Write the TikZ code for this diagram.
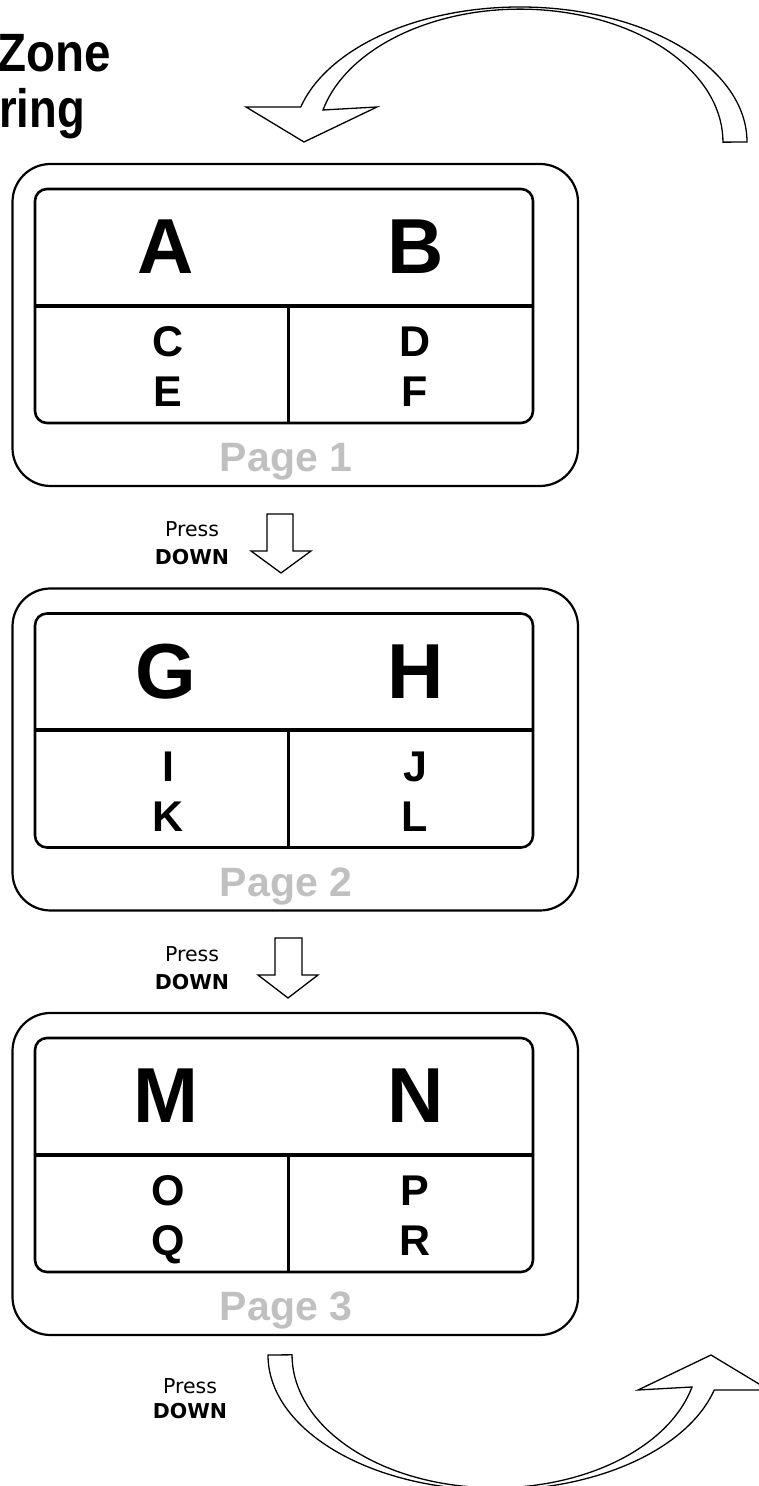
\documentclass[tikz,border=0pt]{standalone}
\usepackage{fontspec}
\setmainfont{Liberation Sans}
\newfontfamily\pressfont{DejaVu Sans}
\usetikzlibrary{calc}
\definecolor{pagegray}{RGB}{192,192,192}
\tikzset{
  outerbox/.style={draw, line width=2.2pt, rounded corners=38pt, minimum width=565.5pt, minimum height=322pt, inner sep=0pt, outer sep=0pt},
  innerbox/.style={draw, line width=2.6pt, rounded corners=12pt, minimum width=498pt, minimum height=234pt, inner sep=0pt, outer sep=0pt},
  bigletter/.style={font=\bfseries\fontsize{78}{80}\selectfont, anchor=base, inner sep=0pt},
  midletter/.style={font=\bfseries\fontsize{43}{45}\selectfont, anchor=base, inner sep=0pt},
  pagelabel/.style={font=\bfseries\fontsize{41}{43}\selectfont, text=pagegray, anchor=base, inner sep=0pt},
  presstext/.style={font=\pressfont\fontsize{20.5}{23}\selectfont, anchor=base, inner sep=0pt},
  downtext/.style={font=\pressfont\bfseries\fontsize{20.5}{23}\selectfont, anchor=base, inner sep=0pt},
  titletext/.style={font=\bfseries\fontsize{54}{56}\selectfont, inner sep=0pt},
  blockarrow/.style={draw, line width=1.3pt, fill=white, line join=miter},
  divider/.style={line width=4pt},
  vdivider/.style={line width=3pt},
}
\begin{document}
\begin{tikzpicture}[x=1pt,y=1pt]
\useasboundingbox (0,0) rectangle (759,1486);
\clip (0,0) rectangle (759,1486);

% title
\node[titletext, anchor=base west] (title1) at (-3,1414) {\scalebox{0.88}[1]{Zone}};
\node[titletext, anchor=base west] (title2) at (-1,1358) {\scalebox{0.84}[1]{ring}};

% pages
\foreach \k/\a/\b/\c/\d/\e/\f/\n in {0/A/B/C/D/E/F/1, 1/G/H/I/J/K/L/2, 2/M/N/O/P/Q/R/3}{
  \pgfmathsetmacro{\dy}{424.5*\k}
  \node[outerbox] (outer\n) at (295.25,1161-\dy) {};
  \node[innerbox] (inner\n) at (284,1180-\dy) {};
  \draw[divider] (inner\n.west) -- (inner\n.east);
  \draw[vdivider] ($(inner\n.center)+(4,0)$) -- ($(inner\n.south)+(4,0)$);
  \node[bigletter] (top\n a) at (166,1212-\dy) {\a};
  \node[bigletter] (top\n b) at (416,1212-\dy) {\b};
  \node[midletter] (mid\n a) at (168,1129-\dy) {\c};
  \node[midletter] (mid\n b) at (415,1129-\dy) {\d};
  \node[midletter] (low\n a) at (168,1079-\dy) {\e};
  \node[midletter] (low\n b) at (415,1079-\dy) {\f};
  \node[pagelabel] (label\n) at (286,1014-\dy) {Page \n};
}

% press down labels
\node[presstext] (press1) at (192,949) {Press};
\node[downtext] (down1) at (192,921) {DOWN};
\node[presstext] (press2) at (192,524.5) {Press};
\node[downtext] (down2) at (192,496.5) {DOWN};
\node[presstext] (press3) at (190,92) {Press};
\node[downtext] (down3) at (190,67) {DOWN};

% straight down arrows
\draw[blockarrow] (267,972) -- (293,972) -- (293,935) -- (311,935) -- (281,913) -- (251,935) -- (267,935) -- cycle;
\draw[blockarrow] (275,548) -- (302,548) -- (302,511) -- (318,511) -- (288,488) -- (258,511) -- (275,511) -- cycle;

% curved arrow at the top
\draw[blockarrow] (747,1344) arc[start angle=0,end angle=165,x radius=227,y radius=135]
  -- (246,1379) -- (304,1344) -- (377,1379) -- (323,1376)
  arc[start angle=166,end angle=0,x radius=203,y radius=133] -- cycle;

% curved arrow at the bottom (same shape turned half round)
\begin{scope}[rotate around={180:(507.5,737.5)}]
\draw[blockarrow] (747,1344) arc[start angle=0,end angle=165,x radius=227,y radius=135]
  -- (246,1379) -- (304,1344) -- (377,1379) -- (323,1376)
  arc[start angle=166,end angle=0,x radius=203,y radius=133] -- cycle;
\end{scope}
\end{tikzpicture}
\end{document}
